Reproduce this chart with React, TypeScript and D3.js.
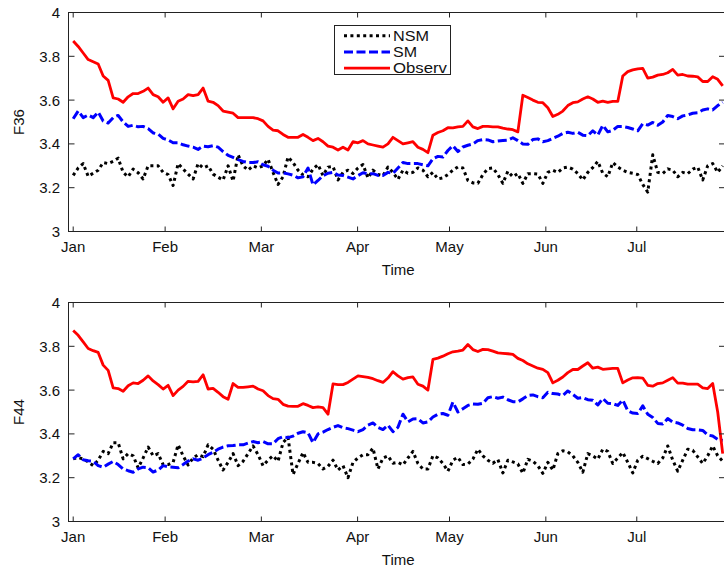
import * as d3 from "d3";

// sample index -> one value every ~5 px along the time axis
const monthLabels = ["Jan", "Feb", "Mar", "Apr", "May", "Jun", "Jul"];
const monthPos = [0, 18.4, 37.66, 56.92, 75.32, 94.6, 112.8];
const yTicks = [3, 3.2, 3.4, 3.6, 3.8, 4];

// panel F36
const nsm36 = [
  3.256, 3.29, 3.31, 3.252, 3.266, 3.28, 3.315, 3.31, 3.32, 3.335, 3.27, 3.25, 3.285, 3.268, 3.24, 3.3, 3.3, 3.3, 3.27, 3.26,
  3.21, 3.31, 3.285, 3.262, 3.24, 3.31, 3.29, 3.3, 3.262, 3.248, 3.235, 3.3, 3.23, 3.35, 3.3, 3.28,
  3.3, 3.29, 3.3, 3.33, 3.27, 3.215, 3.25, 3.34, 3.315, 3.28, 3.258, 3.25, 3.285, 3.305, 3.256, 3.294, 3.297, 3.235, 3.27, 3.28,
  3.265, 3.29, 3.306, 3.245, 3.28, 3.26, 3.255, 3.294, 3.27, 3.238, 3.28, 3.266, 3.27, 3.29, 3.28, 3.25, 3.27, 3.24, 3.245, 3.26,
  3.28, 3.295, 3.29, 3.233, 3.222, 3.22,
  3.26, 3.287, 3.29, 3.26, 3.22, 3.275, 3.25, 3.265, 3.22, 3.264, 3.264, 3.262, 3.22, 3.27, 3.28, 3.27, 3.29, 3.294, 3.285, 3.265,
  3.235, 3.27, 3.292, 3.32, 3.266, 3.25, 3.315, 3.295, 3.28, 3.27, 3.266, 3.26, 3.215, 3.18, 3.35, 3.27, 3.265, 3.286, 3.28, 3.25,
  3.27, 3.264, 3.285, 3.294, 3.235, 3.3, 3.31, 3.27, 3.3,
];
const sm36 = [
  3.515, 3.55, 3.52, 3.532, 3.52, 3.545, 3.505, 3.495, 3.52, 3.53, 3.5, 3.48, 3.485, 3.478, 3.48, 3.47, 3.45, 3.445, 3.425, 3.418,
  3.405, 3.405, 3.396, 3.39, 3.385, 3.375, 3.39, 3.387, 3.392, 3.385, 3.365, 3.348, 3.338, 3.328, 3.32, 3.315,
  3.315, 3.318, 3.305, 3.298, 3.28, 3.267, 3.268, 3.263, 3.257, 3.245, 3.25, 3.29, 3.213, 3.233, 3.255, 3.266, 3.27, 3.258, 3.256, 3.248,
  3.24, 3.255, 3.268, 3.264, 3.264, 3.256, 3.256, 3.27, 3.265, 3.29, 3.315, 3.31, 3.31, 3.31, 3.305, 3.3, 3.332, 3.343, 3.34, 3.37,
  3.392, 3.365, 3.386, 3.394, 3.4, 3.415,
  3.42, 3.418, 3.41, 3.413, 3.415, 3.417, 3.428, 3.415, 3.4, 3.398, 3.42, 3.423, 3.41, 3.415, 3.425, 3.435, 3.448, 3.453, 3.448, 3.453,
  3.44, 3.438, 3.46, 3.44, 3.485, 3.455, 3.462, 3.48, 3.48, 3.475, 3.468, 3.46, 3.492, 3.486, 3.498, 3.485, 3.5, 3.53, 3.525, 3.515,
  3.528, 3.532, 3.54, 3.542, 3.555, 3.56, 3.555, 3.575, 3.59,
];
const obs36 = [
  3.87, 3.845, 3.815, 3.785, 3.775, 3.765, 3.71, 3.69, 3.61, 3.605, 3.59, 3.615, 3.63, 3.63, 3.64, 3.655, 3.625, 3.615, 3.59, 3.61,
  3.56, 3.595, 3.605, 3.625, 3.62, 3.625, 3.655, 3.595, 3.59, 3.575, 3.55, 3.545, 3.54, 3.52, 3.52, 3.52,
  3.52, 3.515, 3.505, 3.48, 3.463, 3.46, 3.443, 3.43, 3.43, 3.43, 3.443, 3.43, 3.415, 3.425, 3.41, 3.39, 3.385, 3.372, 3.385, 3.372,
  3.41, 3.405, 3.415, 3.4, 3.395, 3.39, 3.385, 3.4, 3.43, 3.415, 3.4, 3.405, 3.41, 3.385, 3.375, 3.36, 3.44, 3.452, 3.46, 3.474,
  3.473, 3.478, 3.48, 3.505, 3.478, 3.47,
  3.48, 3.48, 3.478, 3.478, 3.472, 3.468, 3.465, 3.455, 3.622, 3.612, 3.6, 3.59, 3.588, 3.565, 3.525, 3.535, 3.55, 3.575, 3.588, 3.592,
  3.605, 3.615, 3.605, 3.59, 3.595, 3.59, 3.594, 3.594, 3.71, 3.73, 3.738, 3.743, 3.745, 3.7, 3.705, 3.714, 3.717, 3.725, 3.74, 3.714,
  3.717, 3.71, 3.709, 3.706, 3.685, 3.685, 3.707, 3.695, 3.665,
];

// panel F44
const nsm44 = [
  3.286, 3.292, 3.285, 3.272, 3.255, 3.28, 3.32, 3.31, 3.36, 3.36, 3.286, 3.31, 3.3, 3.245, 3.29, 3.34, 3.3, 3.31, 3.26, 3.26,
  3.27, 3.35, 3.3, 3.258, 3.29, 3.305, 3.296, 3.35, 3.33, 3.28, 3.235, 3.27, 3.31, 3.255, 3.275, 3.31,
  3.345, 3.305, 3.255, 3.28, 3.3, 3.275, 3.36, 3.385, 3.215, 3.265, 3.315, 3.27, 3.27, 3.265, 3.24, 3.252, 3.28, 3.235, 3.255, 3.2,
  3.27, 3.29, 3.305, 3.305, 3.335, 3.24, 3.29, 3.3, 3.266, 3.27, 3.258, 3.29, 3.32, 3.265, 3.24, 3.24, 3.3, 3.29, 3.265, 3.23,
  3.28, 3.293, 3.26, 3.262, 3.285, 3.33,
  3.3, 3.28, 3.266, 3.283, 3.222, 3.28, 3.272, 3.263, 3.22, 3.284, 3.275, 3.255, 3.22, 3.27, 3.235, 3.31, 3.323, 3.318, 3.3, 3.27,
  3.225, 3.31, 3.3, 3.285, 3.33, 3.32, 3.265, 3.29, 3.315, 3.27, 3.222, 3.28, 3.298, 3.287, 3.275, 3.265, 3.29, 3.345, 3.28, 3.23,
  3.28, 3.33, 3.325, 3.295, 3.265, 3.3, 3.345, 3.3, 3.275,
];
const sm44 = [
  3.286, 3.305, 3.282, 3.277, 3.275, 3.255, 3.248, 3.262, 3.274, 3.26, 3.24, 3.232, 3.225, 3.24, 3.248, 3.246, 3.226, 3.235, 3.255, 3.25,
  3.248, 3.245, 3.26, 3.276, 3.286, 3.28, 3.29, 3.305, 3.316, 3.33, 3.34, 3.346, 3.347, 3.35, 3.35, 3.358,
  3.365, 3.36, 3.365, 3.355, 3.355, 3.378, 3.387, 3.383, 3.39, 3.403, 3.41, 3.405, 3.36, 3.4, 3.408, 3.42, 3.43, 3.438, 3.428, 3.424,
  3.417, 3.41, 3.42, 3.44, 3.45, 3.43, 3.42, 3.44, 3.41, 3.43, 3.49, 3.455, 3.468, 3.469, 3.45, 3.455, 3.477, 3.49, 3.493, 3.485,
  3.545, 3.5, 3.515, 3.53, 3.537, 3.535,
  3.54, 3.565, 3.57, 3.563, 3.568, 3.556, 3.547, 3.546, 3.56, 3.575, 3.578, 3.57, 3.565, 3.59, 3.584, 3.582, 3.575, 3.596, 3.58, 3.563,
  3.566, 3.556, 3.554, 3.532, 3.562, 3.54, 3.538, 3.53, 3.555, 3.505, 3.495, 3.493, 3.528, 3.49, 3.475, 3.448, 3.445, 3.47, 3.454, 3.45,
  3.44, 3.425, 3.419, 3.419, 3.416, 3.395, 3.39, 3.375, 3.37,
];
const obs44 = [
  3.872, 3.85, 3.82, 3.79, 3.78, 3.772, 3.714, 3.69, 3.61, 3.607, 3.595, 3.62, 3.633, 3.63, 3.645, 3.665, 3.642, 3.625, 3.605, 3.622,
  3.575, 3.6, 3.617, 3.64, 3.638, 3.64, 3.67, 3.605, 3.608, 3.59, 3.57, 3.558, 3.63, 3.612, 3.612, 3.615,
  3.618, 3.605, 3.597, 3.575, 3.561, 3.558, 3.535, 3.527, 3.526, 3.526, 3.538, 3.53, 3.52, 3.523, 3.52, 3.49, 3.628, 3.625, 3.625, 3.635,
  3.65, 3.665, 3.662, 3.658, 3.652, 3.643, 3.635, 3.655, 3.684, 3.665, 3.65, 3.657, 3.66, 3.627, 3.618, 3.6, 3.74, 3.746, 3.755, 3.766,
  3.775, 3.778, 3.783, 3.808, 3.785, 3.776,
  3.786, 3.785, 3.778, 3.77, 3.768, 3.766, 3.763, 3.745, 3.735, 3.72, 3.71, 3.7, 3.695, 3.68, 3.633, 3.645, 3.66, 3.68, 3.694, 3.694,
  3.71, 3.725, 3.7, 3.705, 3.695, 3.697, 3.699, 3.699, 3.633, 3.646, 3.656, 3.657, 3.655, 3.622, 3.618, 3.63, 3.633, 3.645, 3.657, 3.632,
  3.632, 3.627, 3.627, 3.627, 3.61, 3.607, 3.63, 3.5, 3.31,
];

const seriesNames = ["NSM", "SM", "Observ"];
const seriesColors = ["#000000", "#0000ff", "#ff0000"];
const seriesDash = ["3,3.4", "9,3.5", null];
const seriesWidth = [3, 3, 2.8];

const FONT = "'Liberation Sans', Arial, Helvetica, sans-serif";
const left = 68.5;
const right = 725;

const Panel = ({ top, bottom, label, data, legend }) => {
  const x = d3.scaleLinear().domain([-0.94, 130.46]).range([left, right]);
  const y = d3.scaleLinear().domain([3, 4]).range([bottom, top]);
  const line = d3.line().x((d, i) => x(i)).y(d => y(d));
  const clipId = "clip-" + label;
  const midX = (left + right) / 2;

  return (
    <g>
      <defs>
        <clipPath id={clipId}>
          <rect x={left} y={top} width={right - left} height={bottom - top} />
        </clipPath>
      </defs>
      {/* lines */}
      <g clipPath={`url(#${clipId})`}>
        {data.map((s, k) => (
          <path key={k} d={line(s)} fill="none" stroke={seriesColors[k]} strokeWidth={seriesWidth[k]}
            strokeDasharray={seriesDash[k] || undefined} strokeLinejoin="round" />
        ))}
      </g>
      {/* box */}
      <rect x={left} y={top} width={right - left} height={bottom - top} fill="none" stroke="#222" strokeWidth={1} />
      {/* y ticks */}
      {yTicks.map(t => (
        <g key={t}>
          <line x1={left} x2={left + 6} y1={y(t)} y2={y(t)} stroke="#222" />
          <line x1={right - 6} x2={right} y1={y(t)} y2={y(t)} stroke="#222" />
          <text x={60} y={y(t) + 5.4} textAnchor="end" fontSize={15} fontFamily={FONT} fill="#111">
            {String(t)}
          </text>
        </g>
      ))}
      {/* x ticks */}
      {monthPos.map((p, k) => (
        <g key={k}>
          <line x1={x(p)} x2={x(p)} y1={bottom} y2={bottom - 5} stroke="#222" />
          <line x1={x(p)} x2={x(p)} y1={top} y2={top + 5} stroke="#222" />
          <text x={x(p)} y={bottom + 20} textAnchor="middle" fontSize={15} fontFamily={FONT} fill="#111">
            {monthLabels[k]}
          </text>
        </g>
      ))}
      <text x={midX + 1.5} y={bottom + 43.5} textAnchor="middle" fontSize={15} fontFamily={FONT} fill="#111">Time</text>
      <text transform={`translate(23.5,${(top + bottom) / 2}) rotate(-90)`} textAnchor="middle" fontSize={15}
        fontFamily={FONT} fill="#111">{label}</text>
      {legend && (
        <g>
          <rect x={334.5} y={25.5} width={116} height={49} fill="#fff" stroke="#222" />
          {seriesNames.map((n, k) => {
            const base = 40.8 + k * 16.2;
            const widths = [36, 24, 54];
            return (
              <g key={n}>
                <line x1={344} x2={390} y1={base - 5} y2={base - 5} stroke={seriesColors[k]} strokeWidth={seriesWidth[k]}
                  strokeDasharray={seriesDash[k] || undefined} />
                <text x={393} y={base} fontSize={14.5} fontFamily={FONT} fill="#111"
                  textLength={widths[k]} lengthAdjust="spacingAndGlyphs">{n}</text>
              </g>
            );
          })}
        </g>
      )}
    </g>
  );
};

export default function App() {
  return (
    <svg width={724} height={569} style={{ position: "absolute", left: 0, top: 0, background: "#fff" }}>
      <rect width={724} height={569} fill="#fff" />
      <Panel top={12.5} bottom={231.5} label="F36" data={[nsm36, sm36, obs36]} legend />
      <Panel top={302.5} bottom={521.5} label="F44" data={[nsm44, sm44, obs44]} legend={false} />
    </svg>
  );
}
